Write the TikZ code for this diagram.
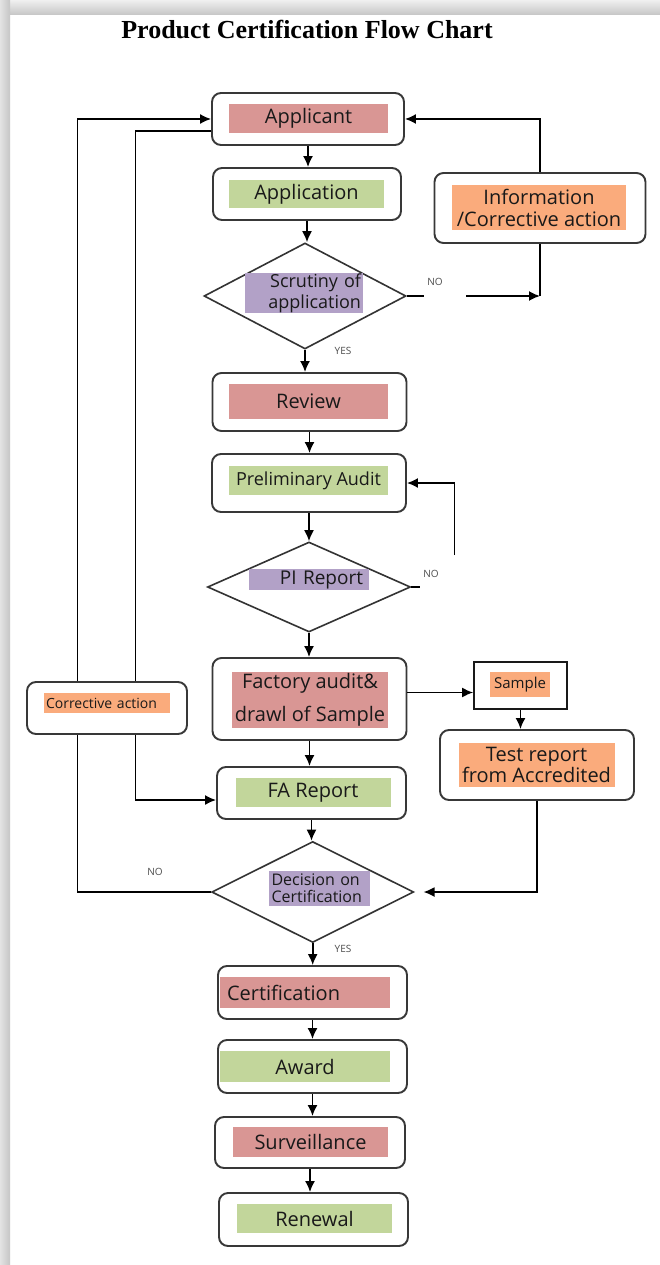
\documentclass[tikz,border=0pt]{standalone}
\usepackage{fontspec}
\setmainfont{Open Sans}
\newfontfamily\titlefont{Liberation Serif}
\usetikzlibrary{shapes.geometric,arrows.meta}
\definecolor{tagpink}{HTML}{D99694}
\definecolor{taggreen}{HTML}{C2D69B}
\definecolor{tagpurple}{HTML}{B2A1C7}
\definecolor{tagorange}{HTML}{FAAB7C}
\tikzset{
  box/.style={draw=black!78,line width=1.9pt,rounded corners=9pt,fill=white,inner sep=0pt},
  sqbox/.style={draw=black!90,line width=1.7pt,fill=white,inner sep=0pt},
  dia/.style={diamond,draw=black!80,line width=1.6pt,fill=white,inner sep=0pt},
  tag/.style={inner sep=0pt,align=center,text=black!90,font=\fontsize{20}{22}\selectfont},
  arr/.style={-{Latex[length=11pt,width=10pt]},line width=1.7pt},
  line/.style={line width=1.7pt},
  yn/.style={inner sep=0pt,text=black!70,font=\fontsize{10}{10}\selectfont}
}
\begin{document}
\begin{tikzpicture}[x=1pt,y=-1pt]
  \useasboundingbox (0,0) rectangle (660,1265);
  % page with its grey frame
  \fill[white] (0,0) rectangle (660,1265);
  \shade[top color=gray!12,bottom color=gray!45] (0,0) rectangle (660,15);
  \shade[left color=gray!22,right color=gray!45] (0,0) rectangle (10,1265);

  \node[font=\titlefont\bfseries\fontsize{26}{30}\selectfont] (title) at (307,30) {Product Certification Flow Chart};

  % main column
  \node[box,minimum width=192pt,minimum height=52pt] (applicant) at (308,119) {};
  \node[tag,fill=tagpink,minimum width=159pt,minimum height=29pt] (applicantT) at (308.5,118.5) {Applicant};

  \node[box,minimum width=188pt,minimum height=52pt] (application) at (307,194) {};
  \node[tag,fill=taggreen,minimum width=155pt,minimum height=28pt] (applicationT) at (306.5,194) {Application};

  \node[dia,minimum width=202pt,minimum height=106pt] (scrutiny) at (305,296) {};
  \node[tag,fill=tagpurple,align=right,text width=114pt,inner xsep=2pt,minimum height=40pt,
        font=\fontsize{18}{21}\selectfont] (scrutinyT) at (304,293) {Scrutiny of\\application};

  \node[box,minimum width=194pt,minimum height=58pt] (review) at (309.5,402) {};
  \node[tag,fill=tagpink,minimum width=159pt,minimum height=35pt] (reviewT) at (308.5,401.5) {Review};

  \node[box,minimum width=194pt,minimum height=58pt] (prelim) at (309,483) {};
  \node[tag,fill=taggreen,minimum width=159pt,minimum height=29pt,
        font=\fontsize{18}{20}\selectfont] (prelimT) at (308.5,480.5) {Preliminary Audit};

  \node[dia,minimum width=203pt,minimum height=90pt] (pi) at (309,587) {};
  \node[tag,fill=tagpurple,align=right,text width=108pt,inner xsep=6pt,minimum height=21pt,
        font=\fontsize{19}{20}\selectfont] (piT) at (309,579.5) {PI Report};

  \node[box,minimum width=194pt,minimum height=82pt] (factory) at (309.5,699) {};
  \node[tag,fill=tagpink,minimum width=156pt,minimum height=56pt,
        font=\fontsize{20}{33}\selectfont] (factoryT) at (310,700) {Factory audit\&\\drawl of Sample};

  \node[box,minimum width=189pt,minimum height=52pt] (fa) at (311.5,793) {};
  \node[tag,fill=taggreen,minimum width=155pt,minimum height=29pt] (faT) at (313,792.5) {FA Report};

  \node[dia,minimum width=202pt,minimum height=101pt] (decision) at (312.7,892) {};
  \node[tag,fill=tagpurple,align=left,text width=95pt,inner xsep=3pt,minimum height=35pt,
        font=\fontsize{16}{17}\selectfont] (decisionT) at (319,888) {Decision on\\Certification};

  \node[box,minimum width=189pt,minimum height=53pt] (cert) at (312.5,992.5) {};
  \node[tag,fill=tagpink,align=left,text width=156pt,inner xsep=7pt,minimum height=31pt] (certT) at (305,992.5) {Certification};

  \node[box,minimum width=189pt,minimum height=53pt] (award) at (312.5,1066.5) {};
  \node[tag,fill=taggreen,minimum width=170pt,minimum height=31pt] (awardT) at (305,1066.5) {Award};

  \node[box,minimum width=190pt,minimum height=51pt] (surv) at (310,1142.5) {};
  \node[tag,fill=tagpink,minimum width=155pt,minimum height=30pt] (survT) at (310.5,1142) {Surveillance};

  \node[box,minimum width=189pt,minimum height=53pt] (renewal) at (313.5,1219.5) {};
  \node[tag,fill=taggreen,minimum width=155pt,minimum height=29pt] (renewalT) at (314.5,1218.5) {Renewal};

  % side boxes
  \node[box,minimum width=211pt,minimum height=70pt] (info) at (540,208) {};
  \node[tag,fill=tagorange,minimum width=174pt,minimum height=45pt] (infoT) at (539,207.5) {Information\\/Corrective action};

  \node[sqbox,minimum width=93pt,minimum height=47pt] (sample) at (520.5,685.5) {};
  \node[tag,fill=tagorange,minimum width=60pt,minimum height=25pt,
        font=\fontsize{15}{16}\selectfont] (sampleT) at (520,684.5) {Sample};

  \node[box,minimum width=194pt,minimum height=70pt] (test) at (537,765) {};
  \node[tag,fill=tagorange,minimum width=156pt,minimum height=44pt,
        font=\fontsize{20}{21}\selectfont] (testT) at (536.5,765) {Test report\\from Accredited};

  % downward flow
  \draw[arr] (applicant.south) -- (applicant.south |- application.north);
  \draw[arr] (application.south) -- (application.south |- scrutiny.north);
  \draw[arr] (scrutiny.south) -- (scrutiny.south |- review.north);
  \draw[arr] (review.south) -- (review.south |- prelim.north);
  \draw[arr] (prelim.south) -- (prelim.south |- pi.north);
  \draw[arr] (pi.south) -- (pi.south |- factory.north);
  \draw[arr] (factory.south) -- (factory.south |- fa.north);
  \draw[arr] (fa.south) -- (fa.south |- decision.north);
  \draw[arr] (decision.south) -- (decision.south |- cert.north);
  \draw[arr] (cert.south) -- (cert.south |- award.north);
  \draw[arr] (award.south) -- (award.south |- surv.north);
  \draw[arr] (surv.south) -- (surv.south |- renewal.north);

  % NO branch of the scrutiny
  \coordinate (scrNo) at (466,296);
  \draw[line] (scrutiny.east) -- ++(17,0);
  \draw[arr] (scrNo) -- (scrNo -| info.south);
  \draw[line] (info.south) -- (scrNo -| info.south);
  \draw[arr] (info.north) |- (applicant.east);
  \node[yn] (scrNoL) at (435,282) {NO};
  \node[yn] (scrYesL) at (343,351) {YES};

  % NO branch of the PI report
  \coordinate (piNo) at (454.5,555);
  \draw[line] (pi.east) -- ++(9,0);
  \draw[arr] (piNo) |- (prelim.east);
  \node[yn] (piNoL) at (431,574) {NO};

  % sample and test report
  \draw[arr] ([yshift=-7pt]sample.west -| factory.east) -- ([yshift=-7pt]sample.west);
  \draw[arr] (sample.south) -- (sample.south |- test.north);
  \draw[arr,shorten >=9pt] (test.south) |- (decision.east);

  % NO branch of the decision, back to the applicant
  \draw[arr] (decision.west) -- ++(-133.5,0) |- (applicant.west);
  \node[yn] (decNoL) at (155,872) {NO};
  \node[yn] (decYesL) at (343,949) {YES};

  \node[box,minimum width=160pt,minimum height=52pt] (corr) at (107,708) {};
  \node[tag,fill=tagorange,align=left,text width=122pt,inner xsep=2pt,minimum height=20pt,
        font=\fontsize{14}{15}\selectfont] (corrT) at (107,703) {Corrective action};
  \draw[line] ([yshift=-12pt]applicant.west) -| ([xshift=28.5pt]corr.north);
  \draw[arr] ([xshift=28.5pt]corr.south) |- ([yshift=-7pt]fa.west);
\end{tikzpicture}
\end{document}
